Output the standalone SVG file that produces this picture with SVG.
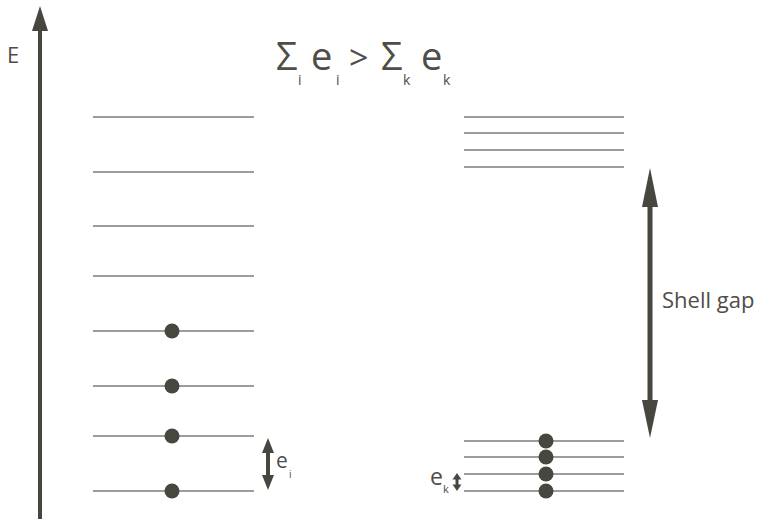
<svg xmlns="http://www.w3.org/2000/svg" width="760" height="519" viewBox="0 0 760 519">
<style>
.lv{stroke:#3c3b36;stroke-width:1.2}
.dot{fill:#48473f}
.t{font-family:"Open Sans","DejaVu Sans",sans-serif;fill:#4f4d48}
.ar{fill:#48473f}
</style>
<rect width="760" height="519" fill="#fff"/>
<g id="axis">
<rect class="ar" x="38" y="28" width="4" height="491"/>
<polygon class="ar" points="40,6 48,31 32,31"/>
<text class="t" x="7" y="63" font-size="22">E</text>
</g>
<g id="title" class="t">
<text x="276" y="70" font-size="38">Σ</text>
<text x="298" y="85" font-size="14">i</text>
<text x="311" y="70" font-size="38">e</text>
<text x="336" y="85" font-size="14">i</text>
<text x="349" y="70" font-size="34">&gt;</text>
<text x="381" y="70" font-size="38">Σ</text>
<text x="403" y="85" font-size="14">k</text>
<text x="421" y="70" font-size="38">e</text>
<text x="443" y="85" font-size="14">k</text>
</g>
<g id="left-levels">
<line class="lv" x1="93" y1="117" x2="254" y2="117"/>
<line class="lv" x1="93" y1="172" x2="254" y2="172"/>
<line class="lv" x1="93" y1="226" x2="254" y2="226"/>
<line class="lv" x1="93" y1="276" x2="254" y2="276"/>
<line class="lv" x1="93" y1="331" x2="254" y2="331"/>
<line class="lv" x1="93" y1="386" x2="254" y2="386"/>
<line class="lv" x1="93" y1="436" x2="254" y2="436"/>
<line class="lv" x1="93" y1="491" x2="254" y2="491"/>
<circle class="dot" cx="172" cy="331" r="7.5"/>
<circle class="dot" cx="172" cy="386" r="7.5"/>
<circle class="dot" cx="172" cy="436" r="7.5"/>
<circle class="dot" cx="172" cy="491" r="7.5"/>
</g>
<g id="right-levels">
<line class="lv" x1="464" y1="117" x2="624" y2="117"/>
<line class="lv" x1="464" y1="133" x2="624" y2="133"/>
<line class="lv" x1="464" y1="150" x2="624" y2="150"/>
<line class="lv" x1="464" y1="167" x2="624" y2="167"/>
<line class="lv" x1="464" y1="441" x2="624" y2="441"/>
<line class="lv" x1="464" y1="457" x2="624" y2="457"/>
<line class="lv" x1="464" y1="474" x2="624" y2="474"/>
<line class="lv" x1="464" y1="491" x2="624" y2="491"/>
<circle class="dot" cx="546" cy="441" r="7.5"/>
<circle class="dot" cx="546" cy="457" r="7.5"/>
<circle class="dot" cx="546" cy="474" r="7.5"/>
<circle class="dot" cx="546" cy="491" r="7.5"/>
</g>
<g id="connectors">
<g id="ei-arrow">
<rect class="ar" x="266" y="450" width="4" height="28"/>
<polygon class="ar" points="268,438 274,453 262,453"/>
<polygon class="ar" points="268,490 274,475 262,475"/>
</g>
<g id="ek-arrow">
<rect class="ar" x="455.5" y="478" width="3" height="8"/>
<polygon class="ar" points="457,473 461.5,479.5 452.5,479.5"/>
<polygon class="ar" points="457,491 461.5,484.5 452.5,484.5"/>
</g>
<g id="gap-arrow">
<rect class="ar" x="647.5" y="200" width="5" height="206"/>
<polygon class="ar" points="650,168 658,207 642,207"/>
<polygon class="ar" points="650,438 658,400 642,400"/>
</g>
</g>
<g id="labels" class="t">
<text x="276" y="468" font-size="21">e</text>
<text x="289" y="478" font-size="10">i</text>
<text x="430" y="485" font-size="23">e</text>
<text x="443" y="493" font-size="11">k</text>
<text x="662" y="308" font-size="22">Shell gap</text>
</g>
</svg>
